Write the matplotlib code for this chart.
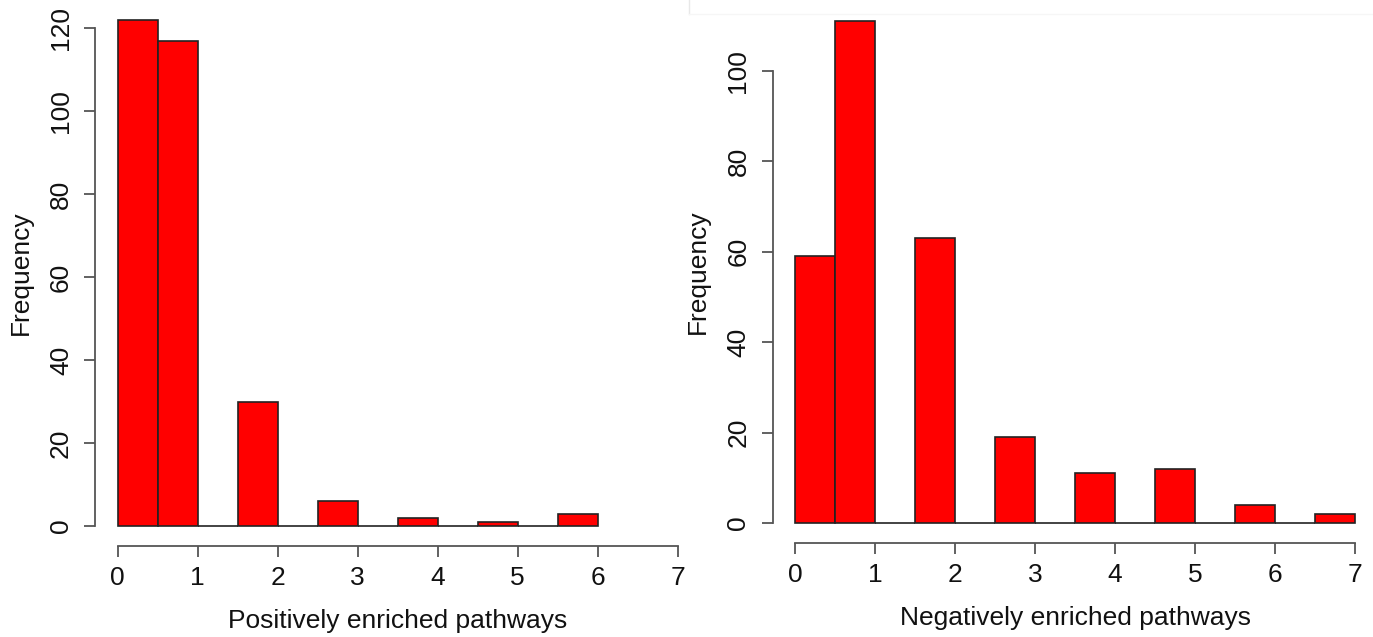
import numpy as np
import matplotlib
matplotlib.use("Agg")
import matplotlib.pyplot as plt

# histogram bins (width 0.5) and counts
pos_edges = np.arange(0, 6.5, 0.5)
pos_counts = [122, 117, 0, 30, 0, 6, 0, 2, 0, 1, 0, 3]
neg_edges = np.arange(0, 7.5, 0.5)
neg_counts = [59, 111, 0, 63, 0, 19, 0, 11, 0, 12, 0, 4, 0, 2]

pos_yticks = [0, 20, 40, 60, 80, 100, 120]
neg_yticks = [0, 20, 40, 60, 80, 100]
xticks = [0, 1, 2, 3, 4, 5, 6, 7]

plt.rcParams['font.family'] = ['Liberation Sans', 'DejaVu Sans']

W, H = 1373, 637
fig = plt.figure(figsize=(W / 100, H / 100), dpi=100)
fig.patch.set_facecolor('white')


def px_axes(left, right, top, bottom):
    return fig.add_axes([left / W, 1 - bottom / H, (right - left) / W, (bottom - top) / H])


def r_hist(ax, edges, counts, yticks, xlabel):
    ax.bar(edges[:-1], counts, width=0.5, align='edge', color='#ff0000',
           edgecolor='#222222', linewidth=1.2)
    ymax = max(counts)
    # R style: 4% padding on both axes
    ax.set_xlim(-0.04 * 7, 7 * 1.04)
    ax.set_ylim(-0.04 * ymax, 1.04 * ymax)
    for s in ['top', 'right']:
        ax.spines[s].set_visible(False)
    for s in ['left', 'bottom']:
        ax.spines[s].set_color('#555555')
        ax.spines[s].set_linewidth(1.3)
    ax.spines['bottom'].set_bounds(0, 7)
    ax.spines['left'].set_bounds(0, yticks[-1])
    ax.set_xticks(xticks)
    ax.set_yticks(yticks)
    ax.tick_params(axis='both', length=8, width=1.3, color='#555555',
                   labelsize=19, labelcolor='#111111')
    ax.tick_params(axis='x', pad=6)
    ax.tick_params(axis='y', pad=8)
    for lab in ax.get_yticklabels():
        lab.set_rotation(90)
        lab.set_va('center')
    ax.set_xlabel(xlabel, fontsize=19, color='#111111', labelpad=14)
    ax.set_ylabel('Frequency', fontsize=19, color='#111111', labelpad=12)
    ax.patch.set_alpha(0)


ax1 = px_axes(95.3, 700.1, -0.4, 546.2)
r_hist(ax1, pos_edges, pos_counts, pos_yticks, 'Positively enriched pathways')

ax2 = px_axes(772.6, 1377.4, 0.9, 543.1)
r_hist(ax2, neg_edges, neg_counts, neg_yticks, 'Negatively enriched pathways')

# faint border of the pasted right panel
fig.add_artist(plt.Line2D([689 / W, 689 / W], [1, 1 - 14 / H], color='#e8e8e8', lw=1))
fig.add_artist(plt.Line2D([689 / W, 1], [1 - 14 / H, 1 - 14 / H], color='#f6f6f6', lw=1))

fig.savefig('out.png', dpi=100)
